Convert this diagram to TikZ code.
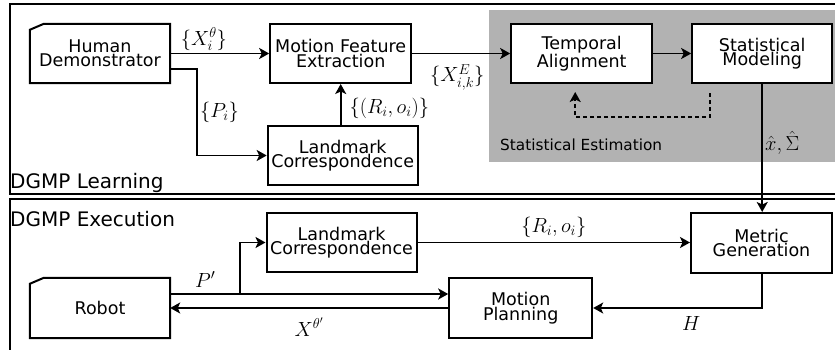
\RequirePackage{fix-cm}
\documentclass[tikz,border=0pt]{standalone}
\usepackage{amsmath}
\usepackage{fontspec}
\setsansfont{DejaVu Sans}
\usepackage{tikz}
\usetikzlibrary{positioning}
\usetikzlibrary{arrows.meta}

\begin{document}
\begin{tikzpicture}[x=1pt, y=1pt,
    font=\sffamily\fontsize{17.5}{13}\selectfont,
    >={Stealth[length=10pt,width=11pt,inset=2.5pt]},
    card/.style={minimum width=140pt, minimum height=59pt, inner sep=0pt, align=center},
    block/.style={card, draw, fill=white, line width=2pt},
    flow/.style={->, line width=1.9pt},
    lbl/.style={inner sep=2pt, font=\fontsize{20.5}{24}\selectfont},
    frame/.style={line width=1.4pt}]

    \useasboundingbox (0,0) rectangle (835,349);

    % DGMP learning
    \fill[black!30] (489,187) rectangle (840,339);
    \draw[frame] (10,155) rectangle (850,345);
    \node[anchor=base west, inner sep=0pt, font=\sffamily\fontsize{20}{24}\selectfont] (learn) at (10,161) {DGMP Learning};
    \node[anchor=base west, inner sep=0pt, font=\sffamily\fontsize{15.3}{18}\selectfont] (estim) at (500,199) {Statistical Estimation};

    \node[card] (demo) at (100,295.5) {Human\\Demonstrator};
    \node[block, minimum width=141pt, right=99pt of demo] (feat) {Motion Feature\\Extraction};
    \node[block, minimum width=150pt, below=41pt of feat, xshift=2pt] (corrL) {Landmark\\Correspondence};
    \node[block, minimum width=141pt, right=98pt of feat] (align) {Temporal\\Alignment};
    \node[block, right=38pt of align] (model) {Statistical\\Modeling};

    \draw[line width=2pt] ([xshift=14pt]demo.north west) -- (demo.north east) -- (demo.south east)
        -- (demo.south west) -- ([yshift=-6pt]demo.north west) -- cycle;

    \draw[flow] (demo) -- node[lbl, above, pos=0.34] (xth) {$\{X_i^\theta\}$} (feat);
    \draw[flow] ([yshift=-15.5pt]demo.east) -- ++(27pt,0) |- node[lbl, right, pos=0.25] (pl) {$\{P_i\}$} (corrL);
    \draw[flow] (feat.south |- corrL.north) -- node[lbl, right=6pt, pos=0.41] (rol) {$\{(R_i,o_i)\}$} (feat.south);
    \draw[flow] (feat) -- node[lbl, below=8pt, pos=0.46] (xe) {$\{X^E_{i,k}\}$} (align);
    \draw[flow] (align) -- (model);
    \draw[flow, dash pattern=on 4pt off 3pt, shorten <=9pt, shorten >=8pt]
        ([xshift=-52pt]model.south) -- ++(0,-33pt) -| ([xshift=-6.5pt]align.south);

    % DGMP execution
    \draw[frame] (10,150) rectangle (850,-10);
    \node[anchor=base west, inner sep=0pt, font=\sffamily\fontsize{20}{24}\selectfont] (exec) at (10,122.3) {DGMP Execution};

    \node[card, minimum height=60pt] (robot) at (100,41) {Robot};
    \node[block, minimum width=143pt, minimum height=60pt, right=278pt of robot] (plan) {Motion\\Planning};
    \node[block, minimum width=150pt] (corrE) at (341.5,106.5) {Landmark\\Correspondence};
    \node[block, minimum width=141pt, minimum height=60pt] (gen) at (761.5,106) {Metric\\Generation};

    \draw[line width=2pt] ([xshift=14pt]robot.north west) -- (robot.north east) -- (robot.south east)
        -- (robot.south west) -- ([yshift=-6pt]robot.north west) -- cycle;

    \draw[flow] (model.south) -- node[lbl, right, pos=0.46] (est) {$\hat{x},\hat{\Sigma}$} (model.south |- gen.north);
    \draw[flow] ([yshift=14pt]robot.east) -- node[lbl, above=4pt] (pp) {$P'$} ++(70pt,0) coordinate (split) |- (corrE);
    \draw[flow] (split) -- (split -| plan.west);
    \draw[flow] (plan) -- node[lbl, below=7pt] (xq) {$X^{\theta'}$} (robot);
    \draw[flow] (corrE) -- node[lbl, above=2pt] (ro) {$\{R_i,o_i\}$} (corrE -| gen.west);
    \draw[flow] (gen.south -| model.south) |- node[lbl, below=6pt, pos=0.71] (hh) {$H$} (plan);

\end{tikzpicture}
\end{document}
